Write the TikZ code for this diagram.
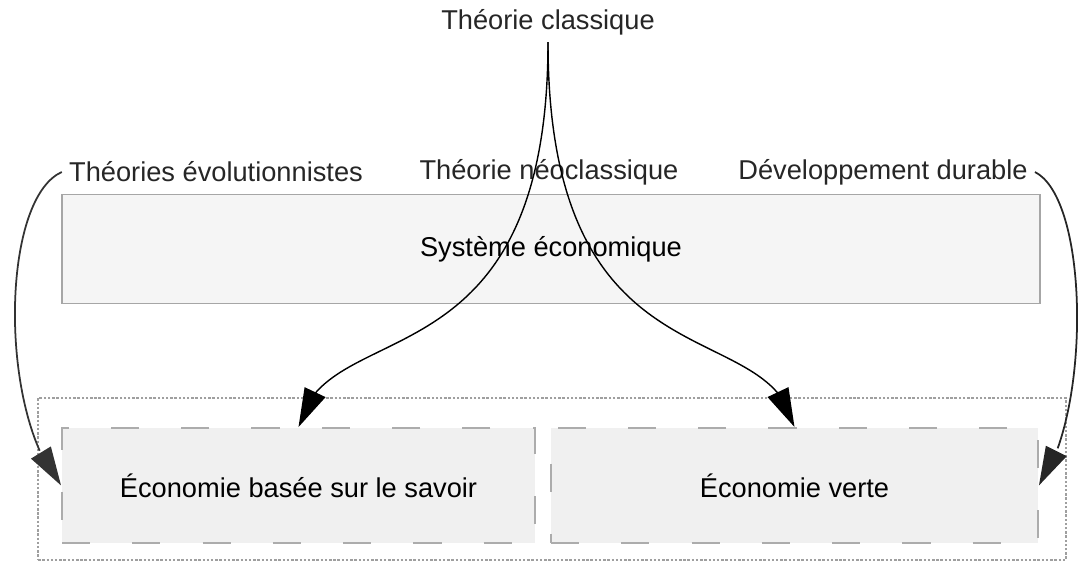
\documentclass[tikz,border=0pt]{standalone}
\usepackage{fontspec}
\setmainfont{Liberation Sans}
\usetikzlibrary{arrows.meta,bending}

\begin{document}
\begin{tikzpicture}[x=0.02cm, y=-0.02cm,
    font=\fontsize{15.5}{18}\selectfont,
    label/.style={text=black!85, inner sep=4pt},
    sysbox/.style={draw=gray!70, line width=0.9pt, fill=gray!8,
        minimum width=19.56cm, minimum height=2.18cm},
    ecobox/.style={draw=gray!65, line width=1.1pt, fill=gray!12,
        dash pattern=on 16pt off 24pt, minimum height=2.3cm},
    flow/.style={-{Triangle[length=22pt, width=13pt, flex]}, line width=0.8pt, black},
    side/.style={flow, line width=1pt}]

    % --- cadre ---
    \useasboundingbox (0,0) rectangle (1079,564);

    % --- boîtes ---
    \node[draw=gray!75, line width=0.9pt, dash pattern=on 1.4pt off 1pt,
        minimum width=20.56cm, minimum height=3.24cm] (ensemble) at (552,479) {};
    \node[sysbox] (systeme) at (551,249) {Système économique};
    \node[ecobox, minimum width=9.46cm] (savoir) at (298.5,485.5) {Économie basée sur le savoir};
    \node[ecobox, minimum width=9.74cm] (verte) at (794.5,485.5) {Économie verte};

    % --- étiquettes ---
    \node[label] (classique) at (548,22)  {Théorie classique};
    \node[label] (evol)      at (216,172) {Théories évolutionnistes};
    \node[label] (neo)       at (549,172) {Théorie néoclassique};
    \node[label] (durable)   at (883,172) {Développement durable};

    % --- flèches centrales ---
    \draw[flow] (classique.south) .. controls +(0,350) and +(25,-115) .. (savoir.north);
    \draw[flow] (classique.south) .. controls +(0,350) and +(-25,-115) .. (verte.north);

    % --- flèches latérales ---
    \draw[side, gray!40!black] (evol.west) .. controls +(-62,28) and +(-62,-70) .. (savoir.west);
    \draw[side, black!85] (durable.east) .. controls +(55,28) and +(52,-70) .. (verte.east);

\end{tikzpicture}
\end{document}
